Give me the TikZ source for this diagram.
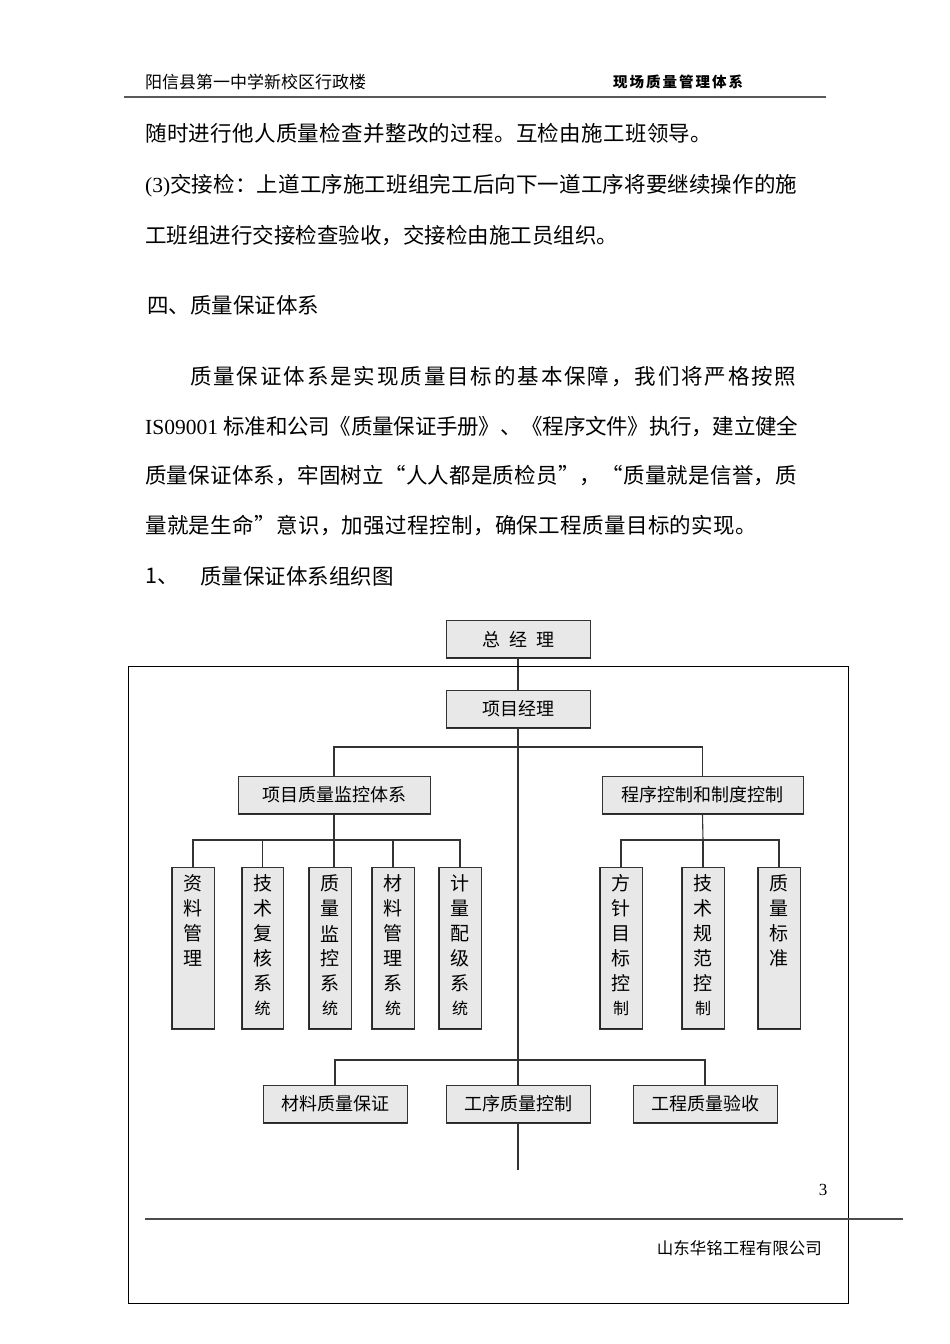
\documentclass[tikz,border=0pt]{standalone}
\usepackage{fontspec}
\setmainfont{Noto Sans CJK SC}
\newfontfamily\latinserif{Liberation Serif}
\pgfdeclarelayer{bg}
\pgfsetlayers{bg,main}
\newcommand\smch[1]{{\fontsize{16}{16}\selectfont #1}}
\newcommand\lsp[1]{\addfontfeature{LetterSpace=#1}}
\newcommand\vlabel[2]{%
  \foreach \ch [count=\k] in {#2}
    \node[vch] (#1c\k) at ([yshift={-17pt-25pt*(\k-1)}]#1.north) {\ch};}
\begin{document}
\begin{tikzpicture}[x=1pt,y=-1pt,
  txt/.style={anchor=west,inner sep=0pt,font=\fontsize{21.5}{21.5}\selectfont},
  hbox/.style={draw=black!80,line width=0.8pt,fill=black!9,inner sep=0pt,
    minimum height=38pt,font=\fontsize{18}{18}\selectfont,
    path picture={\draw[black!85,line width=2.6pt]
      (path picture bounding box.north west) -- (path picture bounding box.south west)
      -- (path picture bounding box.south east);}},
  vbox/.style={hbox,minimum width=42.5pt,minimum height=162pt},
  vch/.style={inner sep=0pt,font=\fontsize{19}{19}\selectfont},
  link/.style={draw=black!80,line width=1.1pt}
]
\useasboundingbox (0,0) rectangle (950,1344);

% header
\node[anchor=west,inner sep=0pt,font=\fontsize{17}{17}\selectfont] (hl) at (145,82) {阳信县第一中学新校区行政楼};
\node[anchor=west,inner sep=0pt,font=\fontsize{14.5}{14.5}\selectfont\bfseries] (hr) at (613,82)
  {现\hspace{2pt}场\hspace{2pt}质\hspace{2pt}量\hspace{2pt}管\hspace{2pt}理\hspace{2pt}体\hspace{2pt}系};
\draw[line width=2pt,black!65] (124,97) -- (826,97);

% body text
\node[txt] (l1) at (145,133) {\lsp{1.5}随时进行他人质量检查并整改的过程。互检由施工班领导。};
\node[txt] (l2) at (145,186) {{\latinserif (3)}\lsp{0.6}交接检：上道工序施工班组完工后向下一道工序将要继续操作的施};
\node[txt] (l3) at (145,236) {工班组进行交接检查验收，交接检由施工员组织。};
\node[txt] (l4) at (147,305) {四、质量保证体系};
\node[txt] (l5) at (190,377) {\lsp{8.8}质量保证体系是实现质量目标的基本保障，我们将严格按照};
\node[txt] (l6) at (145,426) {{\latinserif IS09001 }\lsp{-1}标准和公司《质量保证手册》、《程序文件》执行，建立健全};
\node[txt] (l7) at (145,476) {\lsp{1.1}质量保证体系，牢固树立“人人都是质检员”，“质量就是信誉，质};
\node[txt] (l8) at (145,525) {\lsp{1.7}量就是生命”意识，加强过程控制，确保工程质量目标的实现。};
\node[txt] (l9a) at (145,576) {1、};
\node[txt] (l9b) at (200,576) {质量保证体系组织图};

% frame
\draw[line width=1pt] (128,666) rectangle (848,1303);

% boxes
\node[hbox,minimum width=144pt] (gm) at (518,639.5) {总\hspace{9pt}经\hspace{9pt}理};
\node[hbox,minimum width=144pt] (pm) at (518,709) {项目经理};
\node[hbox,minimum width=192pt] (qa) at (334,795) {项目质量监控体系};
\node[hbox,minimum width=201pt] (pc) at (702.5,795) {程序控制和制度控制};

\node[vbox] (b1) at (193,948) {};
\node[vbox] (b2) at (262.5,948) {};
\node[vbox] (b3) at (330,948) {};
\node[vbox] (b4) at (393,948) {};
\node[vbox] (b5) at (460,948) {};
\node[vbox] (b6) at (621,948) {};
\node[vbox] (b7) at (703,948) {};
\node[vbox] (b8) at (779,948) {};
\vlabel{b1}{资,料,管,理}
\vlabel{b2}{技,术,复,核,系,\smch{统}}
\vlabel{b3}{质,量,监,控,系,\smch{统}}
\vlabel{b4}{材,料,管,理,系,\smch{统}}
\vlabel{b5}{计,量,配,级,系,\smch{统}}
\vlabel{b6}{方,针,目,标,控,\smch{制}}
\vlabel{b7}{技,术,规,范,控,\smch{制}}
\vlabel{b8}{质,量,标,准}

\node[hbox,minimum width=144pt] (m1) at (335,1104) {材料质量保证};
\node[hbox,minimum width=144pt] (m2) at (518,1104) {工序质量控制};
\node[hbox,minimum width=144pt] (m3) at (705,1104) {工程质量验收};

% footer
\node[inner sep=0pt,font=\latinserif\fontsize{17}{17}\selectfont] (pg) at (823,1190) {3};
\draw[line width=1.3pt,black!70] (145,1219) -- (903,1219);
\node[anchor=east,inner sep=0pt,font=\fontsize{16.5}{16.5}\selectfont] (co) at (822,1248) {山东华铭工程有限公司};

% connectors
\coordinate (h1) at (518,747);
\coordinate (qaj) at (334,840);
\coordinate (pcj) at (703,840);
\coordinate (h3) at (518,1060);
\coordinate (tend) at (518,1170);
\begin{pgfonlayer}{bg}
\draw[link] (gm.south) -- (pm.north);
\draw[link] (pm.south) -- (tend);
\draw[link] (qa.north) |- (h1) -| (pc.north);
\draw[link] (qa.south) -- (qaj);
\draw[link] (b1.north) |- (qaj) -| (b5.north);
\draw[link] (qaj) -- (qaj |- b3.north);
\draw[link] (b2.north) -- (b2.north |- qaj);
\draw[link] (b4.north) -- (b4.north |- qaj);
\draw[link] (pc.south) -- (pcj);
\draw[link] (b6.north) |- (pcj) -| (b8.north);
\draw[link] (pcj) -- (b7.north);
\draw[link] (m1.north) |- (h3) -| (m3.north);
\end{pgfonlayer}
\end{tikzpicture}
\end{document}
